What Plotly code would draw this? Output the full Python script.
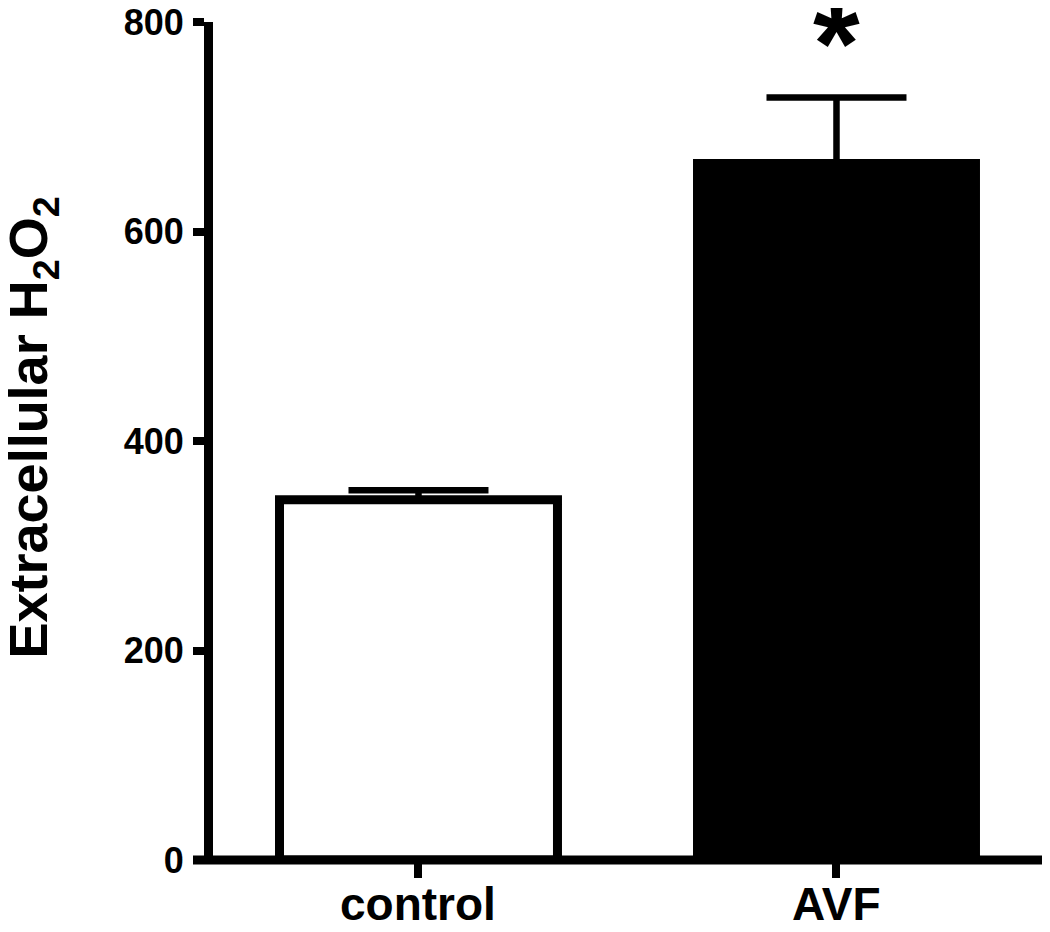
import plotly.graph_objects as go

categories = ["control", "AVF"]
means = [344, 665]
sem = [9, 63]
bar_colors = ["white", "black"]
y_ticks = [0, 200, 400, 600, 800]

FONT = "Liberation Sans, Arial, sans-serif"

fig = go.Figure()
fig.add_trace(go.Bar(
    x=categories,
    y=means,
    width=0.665,
    marker=dict(color=bar_colors, line=dict(color="black", width=9)),
    error_y=dict(type="data", symmetric=False, array=sem, arrayminus=[0, 0],
                 color="black", thickness=6.5, width=70),
    showlegend=False,
))

# page body has an 8px margin, so the figure is 8px smaller than the window
W, H = 1042, 924
ml, mr, mt, mb = 205, 2, 13.5, 71.5
pw = W - ml - mr
ph = H - mt - mb
bottom_px = H - mb

label_font = dict(family=FONT, size=46, weight="bold", color="black")
annotations = [
    dict(text=c, xref="x", yref="paper", x=c, y=(bottom_px - 869) / ph,
         xanchor="center", yanchor="top", showarrow=False, font=label_font)
    for c in categories
]
annotations += [
    dict(text="Extracellular H<sub>2</sub>O<sub>2</sub>", textangle=-90,
         xref="paper", yref="paper", x=(-12 - ml) / pw, y=(bottom_px - 419.5) / ph,
         xanchor="left", yanchor="middle", showarrow=False,
         font=dict(family=FONT, size=54, weight="bold", color="black")),
    dict(text="*", xref="x", yref="paper", x=categories[1], y=(bottom_px - 35) / ph,
         xanchor="center", yanchor="middle", showarrow=False,
         font=dict(family=FONT, size=120, weight="bold", color="black")),
]

fig.update_layout(
    width=W, height=H,
    margin=dict(l=ml, r=mr, t=mt, b=mb, pad=0),
    plot_bgcolor="white", paper_bgcolor="white",
    font=dict(family=FONT, color="black"),
    xaxis=dict(
        type="category", range=[-0.4916, 1.506], automargin=False,
        showline=False, showgrid=False, zeroline=False,
        ticks="outside", ticklen=17, tickwidth=8, tickcolor="black",
        showticklabels=False,
    ),
    yaxis=dict(
        range=[0, 800], tickvals=y_ticks, automargin=False,
        showline=True, linewidth=9, linecolor="black",
        showgrid=False, zeroline=False,
        ticks="outside", ticklen=11, tickwidth=8, tickcolor="black",
        ticklabeloverflow="allow", ticklabelstandoff=2,
        tickfont=dict(family=FONT, size=36, weight="bold", color="black"),
    ),
    shapes=[dict(type="line", xref="paper", yref="paper",
                 x0=(185 - ml) / pw, x1=1, y0=0, y1=0,
                 line=dict(color="black", width=9), layer="above")],
    annotations=annotations,
)

fig.write_html("out.html")
